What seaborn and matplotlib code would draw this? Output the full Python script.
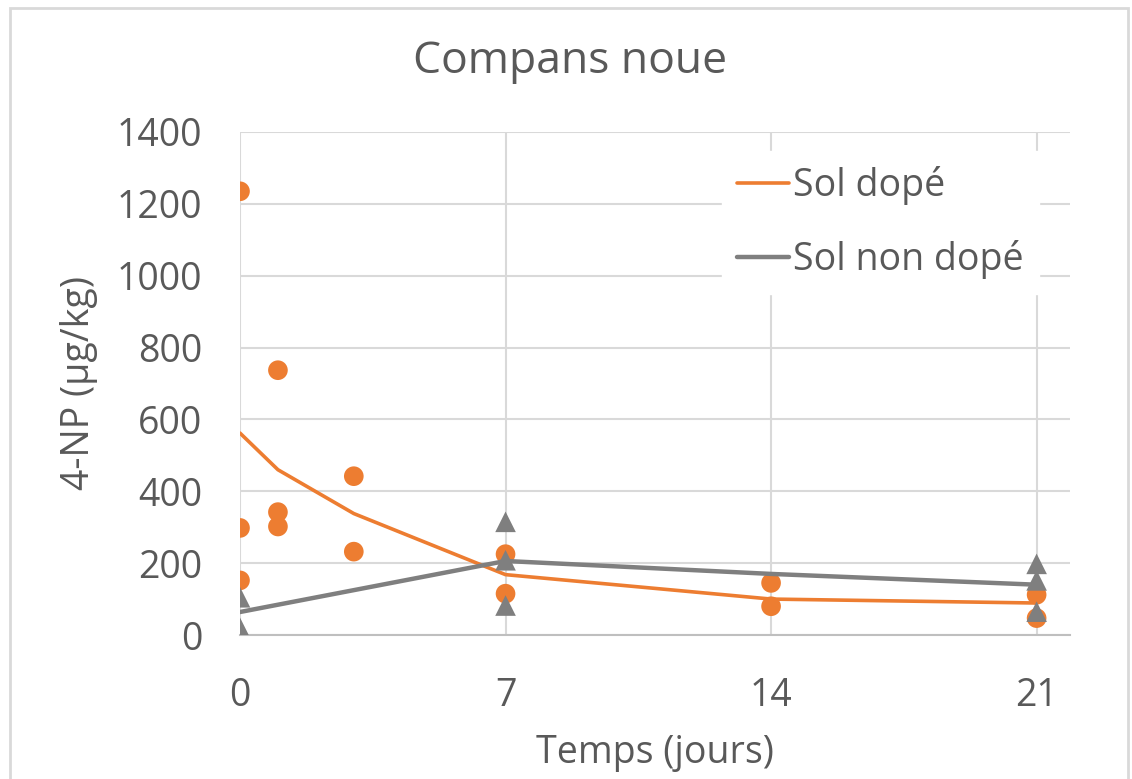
import numpy as np
import pandas as pd
import matplotlib
matplotlib.use("Agg")
import matplotlib.pyplot as plt
import seaborn as sns
from matplotlib.patches import Rectangle

# =========================
# DATA
# =========================
dope_days = [0, 0, 0, 1, 1, 1, 3, 3, 7, 7, 14, 14, 21, 21]
dope_vals = [1235, 298, 152, 737, 342, 302, 442, 232, 225, 115, 145, 80, 112, 47]

non_days = [0, 0, 7, 7, 7, 21, 21, 21]
non_vals = [105, 20, 315, 208, 82, 198, 152, 65]

dope_line_days = [0, 1, 3, 7, 14, 21]
dope_line_vals = [562, 460, 338, 168, 100, 89]

non_line_days = [0, 7, 14, 21]
non_line_vals = [64, 206, 170, 140]

x_ticks = [0, 7, 14, 21]
y_ticks = [0, 200, 400, 600, 800, 1000, 1200, 1400]

ORANGE = "#ED7D31"
GREY = "#7F7F7F"
TEXT = "#595959"

# =========================
# PLOT
# =========================
sns.set_style("white")
plt.rcParams["font.family"] = ["Open Sans", "DejaVu Sans"]

fig = plt.figure(figsize=(11.32, 7.79), dpi=100)
ax = fig.add_axes([240 / 1132, 1 - 635 / 779, 830 / 1132, 503 / 779])

df_dope = pd.DataFrame({"x": dope_days, "y": dope_vals})
df_non = pd.DataFrame({"x": non_days, "y": non_vals})
df_dope_line = pd.DataFrame({"x": dope_line_days, "y": dope_line_vals})
df_non_line = pd.DataFrame({"x": non_line_days, "y": non_line_vals})

sns.lineplot(data=df_dope_line, x="x", y="y", color=ORANGE, linewidth=2.6,
             label="Sol dopé", ax=ax, zorder=3)
sns.scatterplot(data=df_dope, x="x", y="y", color=ORANGE, s=200, marker="o",
                edgecolor="none", legend=False, ax=ax, zorder=4)
sns.lineplot(data=df_non_line, x="x", y="y", color=GREY, linewidth=3.2,
             label="Sol non dopé", ax=ax, zorder=5)
sns.scatterplot(data=df_non, x="x", y="y", color=GREY, s=220, marker="^",
                edgecolor="none", legend=False, ax=ax, zorder=6)

ax.set_xlim(0, 21.88)
ax.set_ylim(0, 1400)
ax.set_xticks(x_ticks)
ax.set_yticks(y_ticks)
ax.grid(True, color="#D9D9D9", linewidth=1.5)
ax.set_axisbelow(True)
for side in ["top", "right", "left"]:
    ax.spines[side].set_visible(False)
ax.spines["bottom"].set_color("#BFBFBF")
ax.spines["bottom"].set_linewidth(1.5)
ax.spines["bottom"].set_zorder(2)

ax.tick_params(axis="y", length=0, pad=27, labelsize=27, labelcolor=TEXT)
ax.tick_params(axis="x", length=0, pad=30, labelsize=27, labelcolor=TEXT)

ax.set_xlabel("Temps (jours)", fontsize=27, color=TEXT, labelpad=14)
ax.set_ylabel("4-NP (µg/kg)", fontsize=27, color=TEXT, labelpad=14)
fig.text(570 / 1132, 1 - 62 / 779, "Compans noue", fontsize=32, color=TEXT,
         ha="center", va="center")

leg = ax.legend(loc="upper right", bbox_to_anchor=(0.985, 1.0), fontsize=27,
                frameon=True, framealpha=1, edgecolor="white", facecolor="white",
                handlelength=1.4, handletextpad=0.1, labelspacing=0.95,
                borderpad=0.4, fancybox=False)
for t in leg.get_texts():
    t.set_color(TEXT)

fig.patches.append(Rectangle((10 / 1132, -0.05), 1118 / 1132, 1.05 - 8 / 779,
                             transform=fig.transFigure, fill=False,
                             edgecolor="#D9D9D9", linewidth=2))

fig.savefig("out.png", dpi=100)
